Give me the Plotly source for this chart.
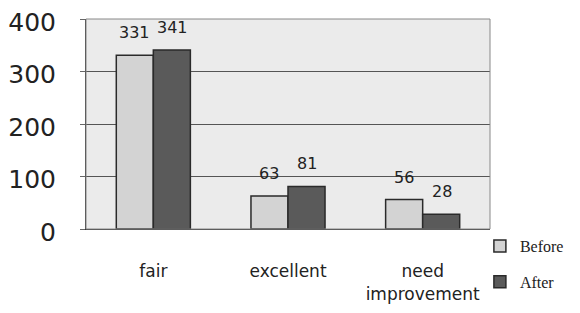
import plotly.graph_objects as go

categories = ["fair", "excellent", "need<br>improvement"]
before = [331, 63, 56]
after = [341, 81, 28]
y_ticks = [0, 100, 200, 300, 400]

fig = go.Figure()
fig.add_trace(go.Bar(name="Before", x=categories, y=before, legendgroup="b",
                     marker=dict(color="#d3d3d3", line=dict(color="#2a2a2a", width=1.5))))
fig.add_trace(go.Bar(name="After", x=categories, y=after, legendgroup="a",
                     marker=dict(color="#5a5a5a", line=dict(color="#2a2a2a", width=1.5))))

for vals, shift in ((before, -19), (after, 19)):
    for c, v in zip(categories, vals):
        fig.add_annotation(x=c, y=v, text=str(v), showarrow=False, xshift=shift,
                           yanchor="bottom", yshift=11,
                           font=dict(family="DejaVu Sans", size=16, color="#222"))

# page body adds an 8px offset, so the figure is drawn 8px smaller
fig.update_layout(
    width=572, height=305,
    margin=dict(l=78, r=90, t=11, b=84, autoexpand=False),
    paper_bgcolor="white", plot_bgcolor="#ebebeb",
    barmode="group", bargap=0.45, bargroupgap=0.0,
    showlegend=True,
    legend=dict(x=0.975, xanchor="left", y=0.0, yanchor="top",
                font=dict(family="Liberation Serif", size=16, color="#222"),
                tracegroupgap=12, itemwidth=30, bgcolor="rgba(0,0,0,0)"),
    xaxis=dict(showline=True, linecolor="#333", linewidth=1, ticks="outside",
               ticklen=0, ticklabelstandoff=27, showgrid=False, automargin=False,
               tickfont=dict(family="DejaVu Sans", size=17, color="#222")),
    yaxis=dict(range=[0, 400], tickvals=y_ticks, showline=True, linecolor="#333",
               linewidth=1, ticks="outside", ticklen=5, tickcolor="#666", automargin=False,
               ticklabelstandoff=19, ticklabelshift=3, ticklabeloverflow="allow",
               gridcolor="#555", gridwidth=1, zeroline=False,
               tickfont=dict(family="DejaVu Sans", size=25, color="#222")),
)
fig.add_shape(type="rect", xref="paper", yref="paper", x0=0, x1=1, y0=0, y1=1,
              line=dict(color="#888", width=1))
fig.write_html("out.html")
